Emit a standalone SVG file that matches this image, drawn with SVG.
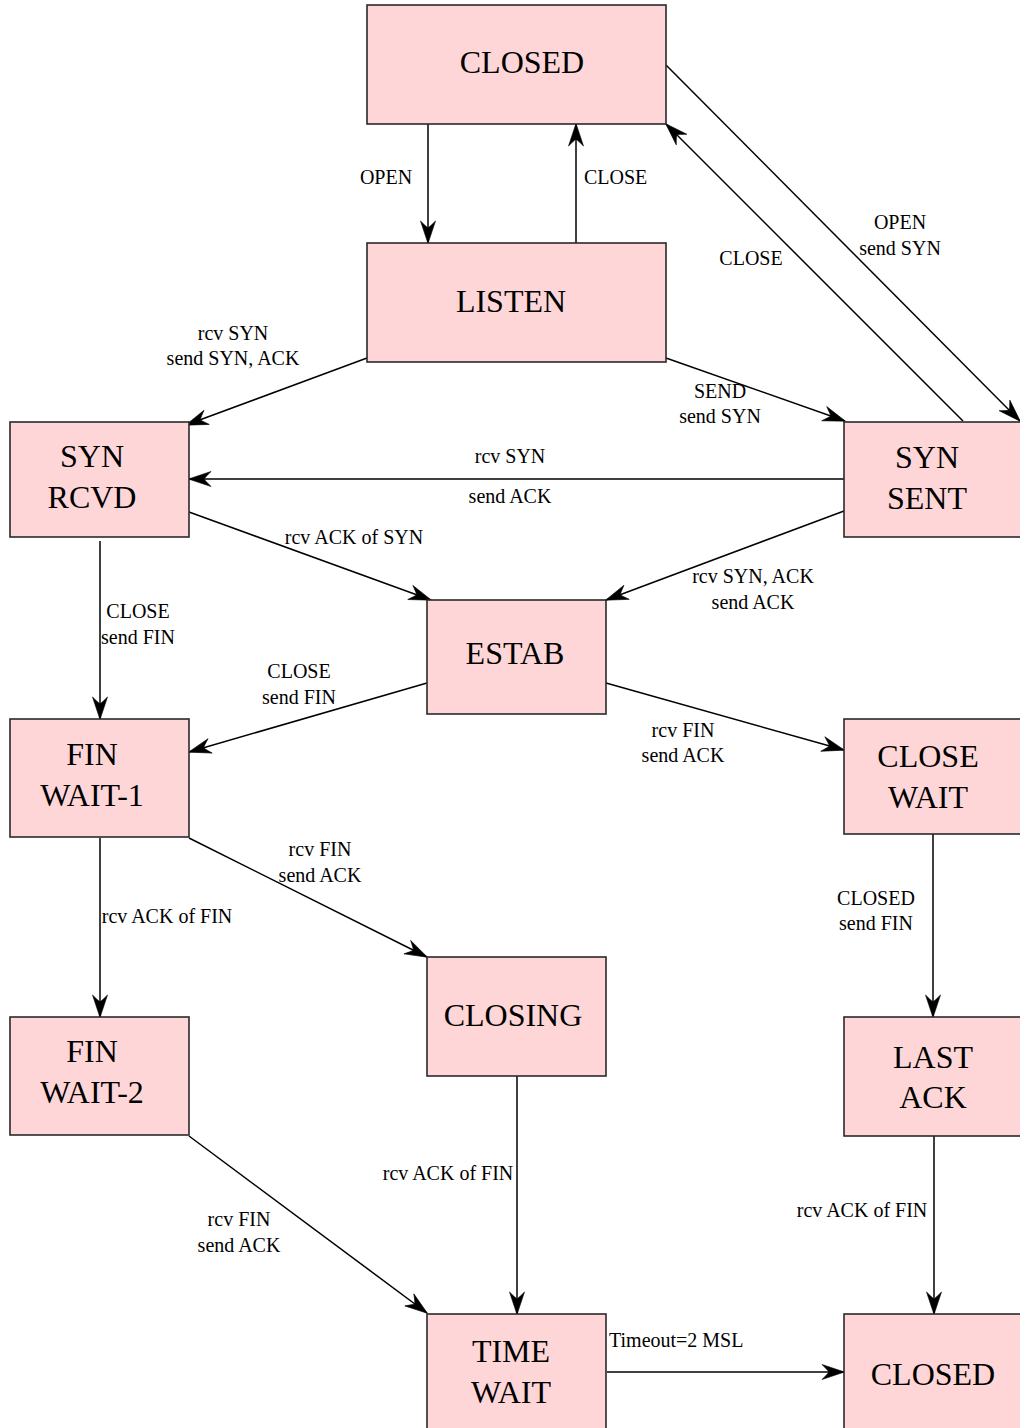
<svg xmlns="http://www.w3.org/2000/svg" width="1020" height="1428" viewBox="0 0 1020 1428">
  <style>
    .state rect { fill: #ffd6d7; stroke: #2a2a2a; stroke-width: 1.6; }
    .state text { font-family: "Liberation Serif", "Times New Roman", serif; font-size: 32px; fill: #000; text-anchor: middle; }
    .edges line { stroke: #000; stroke-width: 1.5; fill: none; }
    .edges line.arr { marker-end: url(#head); }
    .lbl { font-family: "Liberation Serif", "Times New Roman", serif; font-size: 20px; fill: #000; text-anchor: middle; }
    .lbl.start { text-anchor: start; }
  </style>
  <defs>
    <!-- barbed, filled arrowhead shared by all transitions -->
    <marker id="head" markerUnits="userSpaceOnUse" viewBox="-25 -10 27 20" refX="0" refY="0" markerWidth="27" markerHeight="20" orient="auto">
      <path d="M0.5,0 L-22,-7.5 Q-17,-2.5 -15,0 Q-17,2.5 -22,7.5 Z" fill="#000" stroke="#000" stroke-width="0.6" stroke-linejoin="miter"/>
    </marker>
  </defs>
  <rect width="1020" height="1428" fill="#fff"/>

  <!-- transitions -->
  <g id="connectors" class="edges">
    <line class="arr" x1="428" y1="124" x2="428" y2="243"/>
    <line class="arr" x1="576" y1="243" x2="576" y2="124"/>
    <line class="arr" x1="666" y1="65" x2="1020" y2="421"/>
    <line class="arr" x1="963" y1="421" x2="666" y2="124"/>
    <line class="arr" x1="367" y1="358" x2="186" y2="425"/>
    <line class="arr" x1="666" y1="358" x2="845" y2="421"/>
    <line class="arr" x1="845" y1="479" x2="189" y2="479"/>
    <line class="arr" x1="189" y1="512" x2="431" y2="600"/>
    <line class="arr" x1="844" y1="511" x2="606" y2="600"/>
    <line class="arr" x1="100" y1="541" x2="100" y2="719"/>
    <line class="arr" x1="427" y1="683" x2="189" y2="752"/>
    <line class="arr" x1="606" y1="683" x2="844" y2="750"/>
    <line class="arr" x1="933" y1="834" x2="933" y2="1017"/>
    <line class="arr" x1="189" y1="838" x2="427" y2="957"/>
    <line class="arr" x1="100" y1="838" x2="100" y2="1017"/>
    <line class="arr" x1="517" y1="1076" x2="517" y2="1314"/>
    <line class="arr" x1="189" y1="1136" x2="427" y2="1313"/>
    <line class="arr" x1="934" y1="1136" x2="934" y2="1314"/>
    <line class="arr" x1="607" y1="1372" x2="844" y2="1372"/>
  </g>

  <!-- transition labels -->
  <g id="labels">
    <text class="lbl" x="386" y="184">OPEN</text>
    <text class="lbl start" x="584" y="184">CLOSE</text>
    <text class="lbl" x="900" y="229">OPEN</text>
    <text class="lbl" x="900" y="255">send SYN</text>
    <text class="lbl" x="751" y="265">CLOSE</text>
    <text class="lbl" x="233" y="340">rcv SYN</text>
    <text class="lbl" x="233" y="365">send SYN, ACK</text>
    <text class="lbl" x="720" y="398">SEND</text>
    <text class="lbl" x="720" y="423">send SYN</text>
    <text class="lbl" x="510" y="463">rcv SYN</text>
    <text class="lbl" x="510" y="503">send ACK</text>
    <text class="lbl" x="354" y="544">rcv ACK of SYN</text>
    <text class="lbl" x="753" y="583">rcv SYN, ACK</text>
    <text class="lbl" x="753" y="609">send ACK</text>
    <text class="lbl" x="138" y="618">CLOSE</text>
    <text class="lbl" x="138" y="644">send FIN</text>
    <text class="lbl" x="299" y="678">CLOSE</text>
    <text class="lbl" x="299" y="704">send FIN</text>
    <text class="lbl" x="683" y="737">rcv FIN</text>
    <text class="lbl" x="683" y="762">send ACK</text>
    <text class="lbl" x="320" y="856">rcv FIN</text>
    <text class="lbl" x="320" y="882">send ACK</text>
    <text class="lbl" x="167" y="923">rcv ACK of FIN</text>
    <text class="lbl" x="876" y="905">CLOSED</text>
    <text class="lbl" x="876" y="930">send FIN</text>
    <text class="lbl" x="448" y="1180">rcv ACK of FIN</text>
    <text class="lbl" x="239" y="1226">rcv FIN</text>
    <text class="lbl" x="239" y="1252">send ACK</text>
    <text class="lbl" x="862" y="1217">rcv ACK of FIN</text>
    <text class="lbl start" x="609" y="1347">Timeout=2 MSL</text>
  </g>

  <!-- states -->
  <g id="closed-top" class="state">
    <rect x="367" y="5" width="299" height="119"/>
    <text x="522" y="73">CLOSED</text>
  </g>
  <g id="listen" class="state">
    <rect x="367" y="243" width="299" height="119"/>
    <text x="511" y="312">LISTEN</text>
  </g>
  <g id="syn-rcvd" class="state">
    <rect x="10" y="422" width="179" height="115"/>
    <text x="92" y="467">SYN</text>
    <text x="92" y="508">RCVD</text>
  </g>
  <g id="syn-sent" class="state">
    <rect x="844" y="422" width="179" height="115"/>
    <text x="927" y="468">SYN</text>
    <text x="927" y="509">SENT</text>
  </g>
  <g id="estab" class="state">
    <rect x="427" y="600" width="179" height="114"/>
    <text x="515" y="664">ESTAB</text>
  </g>
  <g id="fin-wait-1" class="state">
    <rect x="10" y="719" width="179" height="118"/>
    <text x="92" y="765">FIN</text>
    <text x="92" y="806">WAIT-1</text>
  </g>
  <g id="close-wait" class="state">
    <rect x="844" y="719" width="179" height="115"/>
    <text x="928" y="767">CLOSE</text>
    <text x="928" y="808">WAIT</text>
  </g>
  <g id="closing" class="state">
    <rect x="427" y="957" width="179" height="119"/>
    <text x="513" y="1026">CLOSING</text>
  </g>
  <g id="fin-wait-2" class="state">
    <rect x="10" y="1017" width="179" height="118"/>
    <text x="92" y="1062">FIN</text>
    <text x="92" y="1103">WAIT-2</text>
  </g>
  <g id="last-ack" class="state">
    <rect x="844" y="1017" width="179" height="119"/>
    <text x="933" y="1068">LAST</text>
    <text x="933" y="1108">ACK</text>
  </g>
  <g id="time-wait" class="state">
    <rect x="427" y="1314" width="179" height="116"/>
    <text x="511" y="1362">TIME</text>
    <text x="511" y="1403">WAIT</text>
  </g>
  <g id="closed-bottom" class="state">
    <rect x="844" y="1314" width="179" height="116"/>
    <text x="933" y="1385">CLOSED</text>
  </g>
</svg>
